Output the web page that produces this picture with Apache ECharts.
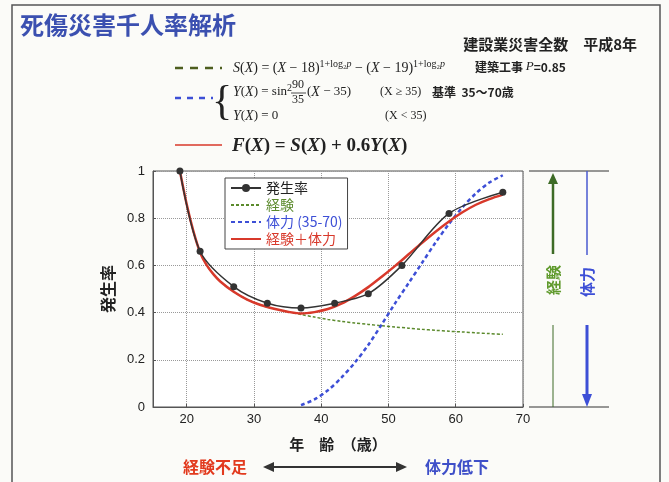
<!DOCTYPE html>
<html>
<head>
<meta charset="utf-8">
<script src="https://cdn.jsdelivr.net/npm/echarts@6/dist/echarts.min.js"></script>
<style>
html, body { margin: 0; padding: 0; background: #fbfbf8; }
#plot { width: 669px; height: 482px; }
</style>
</head>
<body>
<div id="plot"></div>
<script>
// 発生率（実測）
var ageObs = [19, 22, 27, 32, 37, 42, 47, 52, 59, 67];
var rateObs = [1.0, 0.66, 0.51, 0.44, 0.42, 0.44, 0.48, 0.60, 0.82, 0.91];
// 経験 S(X)
var ageExp = [19, 20, 21, 22, 23, 24, 25, 27, 29, 31, 33, 35, 37, 39, 41, 43, 45, 47, 49, 51, 53, 55, 57, 59, 61, 63, 65, 67];
var rateExp = [1.0, 0.86, 0.745, 0.655, 0.600, 0.562, 0.532, 0.488, 0.455, 0.432, 0.416, 0.404, 0.392, 0.381,
  0.371, 0.363, 0.356, 0.350, 0.344, 0.339, 0.334, 0.329, 0.325, 0.321, 0.318, 0.314, 0.311, 0.308];
// 体力 Y(X) (35-70)
var agePow = [37, 39, 41, 43, 45, 47, 49, 51, 53, 55, 57, 59, 61, 63, 65, 67];
var ratePow = [0.008, 0.032, 0.071, 0.124, 0.188, 0.263, 0.350, 0.440, 0.525, 0.611, 0.697, 0.776, 0.846, 0.905, 0.951, 0.982];
// 経験＋体力 F(X)
var ageSum = [19, 20, 21, 22, 23, 24, 25, 27, 29, 31, 33, 35, 37, 39, 41, 43, 45, 47, 49, 51, 53, 55, 57, 59, 61, 63, 65, 67];
var rateSum = [1.0, 0.86, 0.745, 0.655, 0.600, 0.562, 0.532, 0.488, 0.455, 0.432, 0.416, 0.404, 0.396, 0.402,
  0.415, 0.438, 0.470, 0.508, 0.552, 0.598, 0.647, 0.696, 0.743, 0.786, 0.825, 0.857, 0.881, 0.900];
// 目盛り
var xTicks = [20, 30, 40, 50, 60, 70];

var seriesNames = ['発生率', '経験', '体力 (35-70)', '経験＋体力'];

function pairs(xs, ys) {
  return xs.map(function (x, i) { return [x, ys[i]]; });
}

var CJK = '"Noto Sans CJK JP", sans-serif';
var SERIF = '"Liberation Serif", "DejaVu Serif", serif';
var GREEN = '#5b8a2c';
var BLUE = '#3d4fd6';
var RED = '#d8392b';

var myChart = echarts.init(document.getElementById('plot'));

var option = {
  backgroundColor: '#fbfbf8',
  animation: false,
  textStyle: { fontFamily: CJK },
  grid: {
    left: 153, right: 146, top: 171, bottom: 75,
    show: true, backgroundColor: '#fff', borderColor: '#555', borderWidth: 1
  },
  legend: {
    orient: 'vertical',
    left: 225, top: 178,
    backgroundColor: '#fff',
    borderColor: '#444', borderWidth: 1,
    padding: [3, 5],
    itemGap: 3,
    itemWidth: 30, itemHeight: 10,
    textStyle: { fontSize: 14, fontFamily: CJK },
    data: [
      { name: seriesNames[0], textStyle: { color: '#222' } },
      { name: seriesNames[1], textStyle: { color: GREEN }, itemStyle: { opacity: 0 } },
      { name: seriesNames[2], textStyle: { color: BLUE }, itemStyle: { opacity: 0 } },
      { name: seriesNames[3], textStyle: { color: RED }, itemStyle: { opacity: 0 } }
    ]
  },
  xAxis: {
    type: 'value', min: 15, max: 70,
    name: '年　齢　（歳）', nameLocation: 'middle', nameGap: 30,
    nameTextStyle: { fontSize: 15, fontWeight: 'bold', color: '#222', fontFamily: CJK },
    axisLine: { lineStyle: { color: '#555' } },
    axisTick: { customValues: xTicks, inside: true, length: 3, lineStyle: { color: '#555' } },
    axisLabel: { customValues: xTicks, fontSize: 13, color: '#222', fontFamily: 'Liberation Sans, sans-serif', margin: 6 },
    splitLine: { show: true, lineStyle: { type: 'dotted', color: '#999' } }
  },
  yAxis: {
    type: 'value', min: 0, max: 1, interval: 0.2,
    name: '発生率', nameLocation: 'middle', nameGap: 36, nameRotate: 90,
    nameTextStyle: { fontSize: 16, fontWeight: 'bold', color: '#222', fontFamily: CJK },
    axisLine: { show: true, lineStyle: { color: '#555' } },
    axisTick: { show: true, inside: true, length: 3, lineStyle: { color: '#555' } },
    axisLabel: { fontSize: 13, color: '#222', fontFamily: 'Liberation Sans, sans-serif', margin: 8 },
    splitLine: { show: true, lineStyle: { type: 'dotted', color: '#999' } }
  },
  series: [
    {
      name: seriesNames[1], type: 'line', data: pairs(ageExp, rateExp),
      symbol: 'none', smooth: 0.3,
      lineStyle: { color: GREEN, width: 1.5, type: [3, 2] }, itemStyle: { color: GREEN }, z: 2
    },
    {
      name: seriesNames[2], type: 'line', data: pairs(agePow, ratePow),
      symbol: 'none', smooth: 0.3,
      lineStyle: { color: BLUE, width: 2.5, type: [4, 3] }, itemStyle: { color: BLUE }, z: 3
    },
    {
      name: seriesNames[3], type: 'line', data: pairs(ageSum, rateSum),
      symbol: 'none', smooth: 0.3,
      lineStyle: { color: RED, width: 2.5 }, itemStyle: { color: RED }, z: 4
    },
    {
      name: seriesNames[0], type: 'line', data: pairs(ageObs, rateObs),
      symbol: 'circle', symbolSize: 7, smooth: 0.3,
      lineStyle: { color: '#333', width: 1.5 }, itemStyle: { color: '#333' }, z: 5
    }
  ]
};

myChart.setOption(option);

// 注記（数式・矢印など）
function txt(x, y, text, style) {
  return {
    type: 'text', x: x, y: y, silent: true, z: 100,
    style: Object.assign({ text: text, fill: '#222', align: 'left', verticalAlign: 'middle' }, style)
  };
}
function line(x1, y1, x2, y2, color, width, dash) {
  return {
    type: 'line', silent: true, z: 100,
    shape: { x1: x1, y1: y1, x2: x2, y2: y2 },
    style: { stroke: color, lineWidth: width, lineDash: dash || null }
  };
}
function tri(points, color) {
  return { type: 'polygon', silent: true, z: 100, shape: { points: points }, style: { fill: color } };
}

var mathRich = {
  i: { fontFamily: SERIF, fontStyle: 'italic', fontSize: 14, lineHeight: 18 },
  s: { fontFamily: SERIF, fontSize: 10, verticalAlign: 'top', lineHeight: 10 },
  si: { fontFamily: SERIF, fontSize: 10, fontStyle: 'italic', verticalAlign: 'top', lineHeight: 10 }
};
var bigRich = {
  i: { fontFamily: SERIF, fontStyle: 'italic', fontWeight: 'bold', fontSize: 19 }
};

var pTop = myChart.convertToPixel({ gridIndex: 0 }, [70, 1]);
var pBot = myChart.convertToPixel({ gridIndex: 0 }, [70, 0]);
var gx = pTop[0] + 6, gy1 = pTop[1], gy2 = pBot[1];
var ax1 = gx + 24, ax2 = gx + 58;
var midY = (gy1 + gy2) / 2;

var graphics = [
  { type: 'rect', silent: true, z: 0, shape: { x: 12, y: 5, width: 648, height: 490 },
    style: { fill: 'none', stroke: '#555', lineWidth: 1.5 } },
  txt(20, 25, '死傷災害千人率解析', { fill: '#3b50b0', font: 'bold 24px ' + CJK }),
  txt(637, 44, '建設業災害全数　平成8年', { align: 'right', font: 'bold 15px ' + CJK }),

  // S(X)
  line(175, 68, 222, 68, '#4d5e1f', 2.5, [8, 7]),
  txt(233, 68, '{i|S}({i|X}) = ({i|X} − 18){s|1+log₂}{si|p} − ({i|X} − 19){s|1+log₂}{si|p}',
    { font: '14px ' + SERIF, lineHeight: 18, rich: mathRich }),
  txt(475, 67, '建築工事 {i|P}=0.85', { font: 'bold 12px ' + CJK, rich: { i: { fontFamily: SERIF, fontStyle: 'italic', fontSize: 13 } } }),

  // Y(X)
  line(175, 98, 213, 98, BLUE, 2.5, [6, 6]),
  txt(222, 103, '{', { font: '42px ' + SERIF, align: 'center' }),
  txt(233, 92, '{i|Y}({i|X}) = sin{s|2}', { font: '13px ' + SERIF, lineHeight: 18, rich: mathRich }),
  txt(298, 85, '90', { font: '12px ' + SERIF, align: 'center' }),
  line(291, 93, 306, 93, '#222', 0.8),
  txt(298, 100, '35', { font: '12px ' + SERIF, align: 'center' }),
  txt(307, 92, '({i|X} − 35)', { font: '13px ' + SERIF, lineHeight: 18, rich: mathRich }),
  txt(380, 92, '(X ≥ 35)', { font: '12px ' + SERIF }),
  txt(432, 92, '基準  35〜70歳', { font: 'bold 12px ' + CJK }),
  txt(233, 116, '{i|Y}({i|X}) = 0', { font: '13px ' + SERIF, lineHeight: 18, rich: mathRich }),
  txt(385, 116, '(X < 35)', { font: '12px ' + SERIF }),

  // F(X)
  line(175, 145, 222, 145, RED, 1.5),
  txt(232, 146, '{i|F}({i|X}) = {i|S}({i|X}) + 0.6{i|Y}({i|X})', { font: 'bold 19px ' + SERIF, rich: bigRich }),

  // 右側の矢印
  line(gx, gy1, gx + 80, gy1, '#333', 1),
  line(gx, gy2, gx + 80, gy2, '#333', 1),
  line(ax1, midY - 35, ax1, gy1 + 10, '#3d6b26', 2.5),
  tri([[ax1, gy1 + 2], [ax1 - 5, gy1 + 13], [ax1 + 5, gy1 + 13]], '#3d6b26'),
  line(ax1, midY + 36, ax1, gy2, '#3d6b26', 1),
  txt(ax1, midY - 9, '経験', { fill: '#5f9a2c', font: 'bold 15px ' + CJK, align: 'center' }),
  line(ax2, gy1, ax2, midY - 34, '#4a5ad0', 1.5),
  line(ax2, midY + 36, ax2, gy2 - 10, BLUE, 3),
  tri([[ax2, gy2], [ax2 - 5, gy2 - 13], [ax2 + 5, gy2 - 13]], BLUE),
  txt(ax2, midY - 7, '体力', { fill: BLUE, font: 'bold 15px ' + CJK, align: 'center' }),

  // 下部
  txt(183, 467, '経験不足', { fill: '#e23a1e', font: 'bold 16px ' + CJK }),
  line(272, 467, 398, 467, '#333', 2),
  tri([[263, 467], [274, 462], [274, 472]], '#333'),
  tri([[407, 467], [396, 462], [396, 472]], '#333'),
  txt(425, 467, '体力低下', { fill: '#3e4fc8', font: 'bold 16px ' + CJK })
];

// 縦書き（回転）テキスト
graphics.forEach(function (g) {
  if (g.type === 'text' && (g.style.text === '経験' || g.style.text === '体力')) {
    g.rotation = Math.PI / 2;
  }
});

myChart.setOption({ graphic: graphics });
</script>
</body>
</html>
